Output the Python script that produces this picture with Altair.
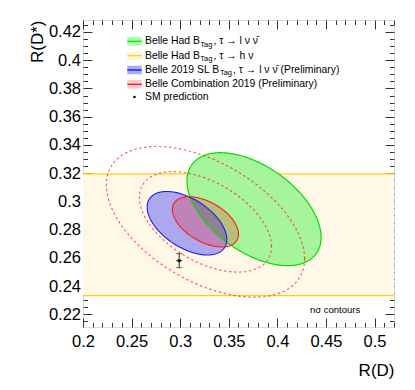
import numpy as np
import pandas as pd
import altair as alt

# ---------------- data ----------------
x_domain = [0.2, 0.52]
y_domain = [0.211, 0.4285]
x_major = [0.2, 0.25, 0.3, 0.35, 0.4, 0.45, 0.5]
y_major = [0.22, 0.24, 0.26, 0.28, 0.3, 0.32, 0.34, 0.36, 0.38, 0.4, 0.42]
x_minor = [round(v, 3) for v in np.arange(0.21, 0.5201, 0.01) if all(abs(v - m) > 1e-6 for m in x_major)]
y_minor = [round(v, 4) for v in np.arange(0.215, 0.4286, 0.005) if all(abs(v - m) > 1e-6 for m in y_major)]

# 2D measurements (1 sigma): R(D), R(D*), errors, correlation
meas_names = ["had_lep", "sl_2019", "combination"]
meas_rd = [0.376, 0.307, 0.326]
meas_rds = [0.2945, 0.2845, 0.2855]
meas_err_rd = [0.069, 0.041, 0.034]
meas_err_rds = [0.040, 0.0225, 0.0178]
meas_rho = [-0.50, -0.51, -0.49]

# R(D*) only measurement (hadronic tag, tau -> h nu): band
band_rds = [0.2332, 0.3195]

# SM prediction
sm_rd, sm_rd_err = 0.299, 0.003
sm_rds, sm_rds_err = 0.258, 0.005

# extra contours of the combination
contour_levels = [2, 3]

legend_prefix = ["Belle Had B", "Belle Had B", "Belle 2019 SL B",
                 "Belle Combination 2019 (Preliminary)", "SM prediction"]
legend_sub = ["Tag", "Tag", "Tag", "", ""]
legend_suffix = [", \u03c4 \u2192 l \u03bd \u03bd\u0304", ", \u03c4 \u2192 h \u03bd",
                 ", \u03c4 \u2192 l \u03bd \u03bd\u0304 (Preliminary)", "", ""]

# ---------------- helpers ----------------
def ell_area(k, n=1, npts=120):
    t = np.linspace(0, np.pi, npts)
    cx, cy, sx, sy, r = meas_rd[k], meas_rds[k], meas_err_rd[k], meas_err_rds[k], meas_rho[k]
    s = np.sqrt(1 - r * r)
    return pd.DataFrame({
        "x": cx + n * sx * np.cos(t),
        "y": cy + n * sy * (r * np.cos(t) + s * np.sin(t)),
        "y2": cy + n * sy * (r * np.cos(t) - s * np.sin(t)),
    })

def ell_line(k, levels=(1,), npts=240):
    rows = []
    cx, cy, sx, sy, r = meas_rd[k], meas_rds[k], meas_err_rd[k], meas_err_rds[k], meas_rho[k]
    s = np.sqrt(1 - r * r)
    for n in levels:
        t = np.linspace(0, 2 * np.pi, npts)
        rows.append(pd.DataFrame({
            "x": cx + n * sx * np.cos(t),
            "y": cy + n * sy * (r * np.cos(t) + s * np.sin(t)),
            "i": np.arange(npts), "n": n}))
    return pd.concat(rows, ignore_index=True)

F = "Liberation Sans"
W, H = 311, 307
xs = alt.Scale(domain=x_domain, nice=False, zero=False)
ys = alt.Scale(domain=y_domain, nice=False, zero=False)
MAJ, MIN = 9, 4.5
common = dict(grid=False, domain=False, tickColor="#333333", tickWidth=1,
              labelFont=F, labelFontSize=16.5, labelColor="#000000",
              titleFont=F, titleColor="#000000", titleFontSize=17,
              titleFontWeight="normal", labelFlush=False, labelOverlap=False)

ax_xb = alt.Axis(orient="bottom", values=x_major, format=".2~f", offset=-MAJ, tickSize=MAJ,
                 labelPadding=6, title="R(D)", titleX=W, titleY=57, titleAlign="right",
                 titleBaseline="alphabetic", titleAngle=0, **common)
ax_xb_min = alt.Axis(orient="bottom", values=x_minor, offset=-MIN, tickSize=MIN, labels=False,
                     title=None, **common)
ax_xt = alt.Axis(orient="top", values=x_major, offset=-MAJ, tickSize=MAJ, labels=False, title=None, **common)
ax_xt_min = alt.Axis(orient="top", values=x_minor, offset=-MIN, tickSize=MIN, labels=False, title=None, **common)

ax_yl = alt.Axis(orient="left", values=y_major, format=".2~f", offset=-MAJ, tickSize=MAJ,
                 labelPadding=2.5, title="R(D*)", titleX=-49.7, titleY=0, titleAngle=270,
                 titleAlign="right", titleBaseline="alphabetic", **common)
ax_yl_min = alt.Axis(orient="left", values=y_minor, offset=-MIN, tickSize=MIN, labels=False, title=None, **common)
ax_yr = alt.Axis(orient="right", values=y_major, offset=-MAJ, tickSize=MAJ, labels=False, title=None, **common)
ax_yr_min = alt.Axis(orient="right", values=y_minor, offset=-MIN, tickSize=MIN, labels=False, title=None, **common)

def X(f, axis=None):
    return alt.X(f, scale=xs, axis=axis)

def Y(f, axis=None):
    return alt.Y(f, scale=ys, axis=axis)

GREEN_FILL, GREEN_LINE = "#a6f59b", "#00dd00"
BLUE, BLUE_LINE = "#0000ff", "#1a1aff"
RED, RED_LINE = "#ff0000", "#ff1a1a"
BAND_FILL, BAND_LINE = "#fff8e6", "#ffd000"

band_df = pd.DataFrame({"lo": [band_rds[0]], "hi": [band_rds[1]]})
band_lines_df = pd.DataFrame({"y": band_rds})

band = alt.Chart(band_df).mark_rect(color=BAND_FILL).encode(y=Y("lo:Q"), y2="hi:Q")
band_lines = alt.Chart(band_lines_df).mark_rule(color=BAND_LINE, strokeWidth=1.2).encode(y=Y("y:Q"))

green_area = alt.Chart(ell_area(0)).mark_area(color=GREEN_FILL, opacity=1).encode(
    x=X("x:Q", ax_xb), y=Y("y:Q", ax_yl), y2="y2:Q")
dashed = alt.Chart(ell_line(2, contour_levels)).mark_line(
    color=RED, opacity=0.6, strokeDash=[2.5, 2.5], strokeWidth=1.2, clip=True).encode(
    x=X("x:Q", ax_xt_min), y=Y("y:Q", ax_yr_min), detail="n:N", order="i:Q")
blue_area = alt.Chart(ell_area(1)).mark_area(color=BLUE, opacity=0.32).encode(
    x=X("x:Q", ax_xb_min), y=Y("y:Q", ax_yl_min), y2="y2:Q")
red_area = alt.Chart(ell_area(2)).mark_area(color=RED, opacity=0.22).encode(
    x=X("x:Q", ax_xt), y=Y("y:Q", ax_yr), y2="y2:Q")
green_line = alt.Chart(ell_line(0)).mark_line(color=GREEN_LINE, strokeWidth=1.2).encode(
    x=X("x:Q"), y=Y("y:Q"), order="i:Q")
blue_line = alt.Chart(ell_line(1)).mark_line(color=BLUE_LINE, strokeWidth=1.1).encode(
    x=X("x:Q"), y=Y("y:Q"), order="i:Q")
red_line = alt.Chart(ell_line(2)).mark_line(color=RED_LINE, strokeWidth=1.1).encode(
    x=X("x:Q"), y=Y("y:Q"), order="i:Q")

sm_df = pd.DataFrame({"x": [sm_rd], "y": [sm_rds],
                      "xlo": [sm_rd - sm_rd_err], "xhi": [sm_rd + sm_rd_err],
                      "ylo": [sm_rds - sm_rds_err], "yhi": [sm_rds + sm_rds_err]})
sm_h = alt.Chart(sm_df).mark_rule(color="#222222", strokeWidth=1).encode(x=X("xlo:Q"), x2="xhi:Q", y=Y("y:Q"))
sm_v = alt.Chart(sm_df).mark_rule(color="#222222", strokeWidth=1).encode(x=X("x:Q"), y=Y("ylo:Q"), y2="yhi:Q")
sm_cap_lo = alt.Chart(sm_df).mark_tick(color="#222222", orient="horizontal", size=6, thickness=1).encode(
    x=X("x:Q"), y=Y("ylo:Q"))
sm_cap_hi = alt.Chart(sm_df).mark_tick(color="#222222", orient="horizontal", size=6, thickness=1).encode(
    x=X("x:Q"), y=Y("yhi:Q"))
sm_pt = alt.Chart(sm_df).mark_circle(color="#000000", size=10, opacity=1).encode(x=X("x:Q"), y=Y("y:Q"))

# ---------------- legend (drawn in pixel space of the plot) ----------------
AW = {' ': 278, ',': 278, '(': 333, ')': 333, '0': 556, '1': 556, '2': 556, '9': 556,
      'B': 667, 'H': 722, 'L': 556, 'S': 667, 'T': 611, 'a': 556, 'd': 556, 'e': 556,
      'g': 556, 'l': 222}

def tw(s, size):
    return sum(AW.get(c, 556) for c in s) * size / 1000.0

ONE = alt.InlineData(values=[{}])
row_y = [21.3, 35.7, 50.0, 64.3, 77.0]
box_x0, box_x1 = 44.3, 58.7
text_x = 62.0
FS, FSS = 10.4, 7.5
box_fill = ["#aaffaa", "#fff5dc", "#aaaaff", "#ffcccc"]
box_line = ["#00dd00", "#ffd000", "#0000ff", "#ff0000"]

legend_layers = []
for i in range(4):
    legend_layers.append(alt.Chart(ONE).mark_rect(color=box_fill[i]).encode(
        x=alt.value(box_x0), x2=alt.value(box_x1),
        y=alt.value(row_y[i] - 4.3), y2=alt.value(row_y[i] + 4.3)))
    legend_layers.append(alt.Chart(ONE).mark_rule(color=box_line[i], strokeWidth=1.2).encode(
        x=alt.value(box_x0), x2=alt.value(box_x1), y=alt.value(row_y[i])))
legend_layers.append(alt.Chart(ONE).mark_circle(color="#000000", size=6, opacity=1).encode(
    x=alt.value((box_x0 + box_x1) / 2), y=alt.value(row_y[4])))

for i in range(5):
    legend_layers.append(alt.Chart(ONE).mark_text(
        text=legend_prefix[i], align="left", baseline="middle", font=F, fontSize=FS, color="#000000").encode(
        x=alt.value(text_x), y=alt.value(row_y[i])))
    if legend_sub[i]:
        xs_ = text_x + tw(legend_prefix[i], FS) + 0.3
        legend_layers.append(alt.Chart(ONE).mark_text(
            text=legend_sub[i], align="left", baseline="middle", font=F, fontSize=FSS, color="#000000").encode(
            x=alt.value(xs_), y=alt.value(row_y[i] + 3.2)))
        legend_layers.append(alt.Chart(ONE).mark_text(
            text=legend_suffix[i], align="left", baseline="middle", font=F, fontSize=FS, color="#000000").encode(
            x=alt.value(xs_ + tw(legend_sub[i], FSS) + 0.3), y=alt.value(row_y[i])))

note = alt.Chart(ONE).mark_text(text="n\u03c3 contours", align="left", baseline="middle",
                                font=F, fontSize=9.5, color="#000000").encode(
    x=alt.value(227), y=alt.value(290))

chart = alt.layer(
    band, band_lines, green_area, dashed, blue_area, red_area,
    green_line, blue_line, red_line,
    sm_h, sm_v, sm_cap_lo, sm_cap_hi, sm_pt,
    *legend_layers, note
).resolve_axis(x="independent", y="independent").properties(
    width=W, height=H,
    padding={"left": 75, "top": 12, "right": 13, "bottom": 55},
    autosize=alt.AutoSizeParams(type="none"),
).configure_view(stroke="#222222", strokeWidth=1.2).configure(background="white")

chart.save("out.html", embed_options={"renderer": "svg", "actions": False})
